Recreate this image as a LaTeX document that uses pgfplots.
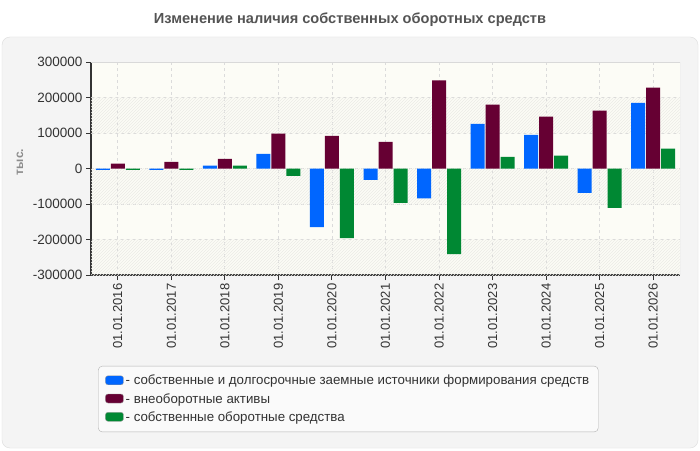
\documentclass[border=0pt]{standalone}
\usepackage{pgfplots}
\pgfplotsset{compat=1.18}
\usepackage{fontspec}
\setmainfont{Liberation Sans}
\usetikzlibrary{patterns}
\definecolor{cblue}{HTML}{0066FF}
\definecolor{cmaroon}{HTML}{660033}
\definecolor{cgreen}{HTML}{008833}
\definecolor{txt}{HTML}{333333}
\definecolor{panel}{HTML}{F4F4F4}
\definecolor{panelborder}{HTML}{DDDDDD}
\definecolor{plotbg}{HTML}{FCFCF6}
\definecolor{hatch}{HTML}{EBEBE6}
\begin{document}
\begin{tikzpicture}[x=1pt,y=1pt]
\path[use as bounding box] (0,0) rectangle (700,450);
\fill[white] (0,0) rectangle (700,450);
\filldraw[fill=panel, draw=panelborder, rounded corners=8pt] (2,2) rectangle (698,413);
\node[font=\bfseries\fontsize{14.6}{17}\selectfont, text=black!67] at (350,430) {Изменение наличия собственных оборотных средств};
\node[rotate=90, font=\bfseries\fontsize{12}{14}\selectfont, text=black!45] at (20,288) {тыс.};
\begin{axis}[
  at={(91pt,175pt)}, anchor=south west,
  scale only axis, width=589pt, height=213pt,
  xmin=-0.5, xmax=10.5, ymin=-300000, ymax=300000,
  ytick={-300000,-200000,-100000,0,100000,200000,300000},
  xtick={0,1,2,3,4,5,6,7,8,9,10},
  xticklabels={01.01.2016,01.01.2017,01.01.2018,01.01.2019,01.01.2020,01.01.2021,01.01.2022,01.01.2023,01.01.2024,01.01.2025,01.01.2026},
  xticklabel style={rotate=90, anchor=east, font=\fontsize{13}{15}\selectfont, text=txt},
  yticklabel style={font=\fontsize{13.5}{15}\selectfont, text=txt, /pgf/number format/fixed, /pgf/number format/1000 sep={}},
  /pgf/number format/assume math mode=true,
  scaled y ticks=false,
  axis background/.style={fill=plotbg},
  axis lines=left, axis line style={-, draw=txt, line width=1.2pt},
  tick align=outside, major tick length=5pt,
  tick style={draw=txt, line width=1pt},
  grid=major, major grid style={dashed, draw=black!14, line width=0.8pt},
  ybar=1pt, bar width=14pt,
  legend style={at={(rel axis cs:0.012,-0.427)}, anchor=north west,
    draw=black!30, fill=white!98!black, rounded corners=4pt,
    font=\fontsize{13.3}{15}\selectfont, text=txt,
    inner xsep=7pt, inner ysep=7pt, row sep=3pt},
  legend cell align=left,
]
\fill[pattern=north east lines, pattern color=hatch] (axis cs:-0.5,100000) rectangle (axis cs:10.5,200000);
\fill[pattern=north east lines, pattern color=hatch] (axis cs:-0.5,-100000) rectangle (axis cs:10.5,0);
\fill[pattern=north east lines, pattern color=hatch] (axis cs:-0.5,-300000) rectangle (axis cs:10.5,-200000);
\addplot[fill=cblue, draw=none, legend image code/.code={\filldraw[fill=cblue, draw=black!40, line width=0.4pt, rounded corners=2.5pt] (2pt,-4pt) rectangle (20pt,5pt);}]
 coordinates {(0,-4000) (1,-4000) (2,8000) (3,41000) (4,-165000) (5,-32000) (6,-84000) (7,126000) (8,95000) (9,-69000) (10,185000)};
\addplot[fill=cmaroon, draw=none, legend image code/.code={\filldraw[fill=cmaroon, draw=black!40, line width=0.4pt, rounded corners=2.5pt] (2pt,-4pt) rectangle (20pt,5pt);}]
 coordinates {(0,14000) (1,19000) (2,27000) (3,98000) (4,92000) (5,75000) (6,248000) (7,180000) (8,146000) (9,163000) (10,228000)};
\addplot[fill=cgreen, draw=none, legend image code/.code={\filldraw[fill=cgreen, draw=black!40, line width=0.4pt, rounded corners=2.5pt] (2pt,-4pt) rectangle (20pt,5pt);}]
 coordinates {(0,-4000) (1,-4000) (2,8000) (3,-21000) (4,-196000) (5,-97000) (6,-241000) (7,33000) (8,36000) (9,-111000) (10,56000)};
\legend{- собственные и долгосрочные заемные источники формирования средств, - внеоборотные активы, - собственные оборотные средства}
\draw[black!15, line width=0.8pt] (rel axis cs:0,1) -- (rel axis cs:1,1) -- (rel axis cs:1,0);
\end{axis}
\end{tikzpicture}
\end{document}
